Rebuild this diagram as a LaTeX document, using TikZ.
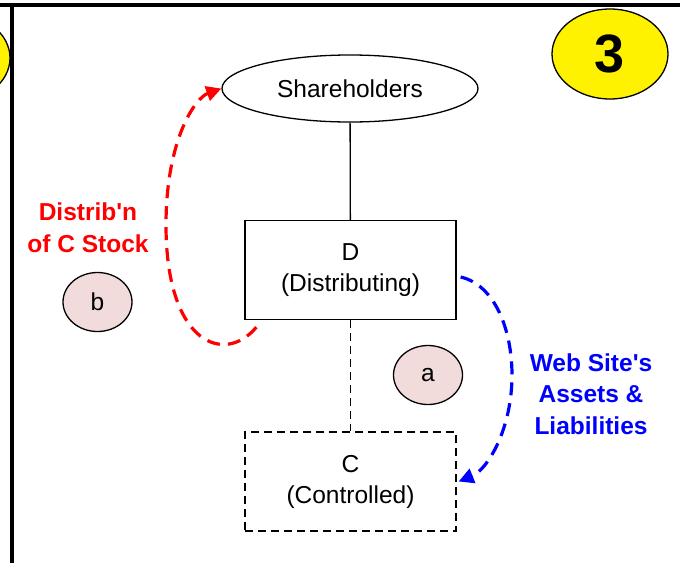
\documentclass[tikz,border=0pt]{standalone}
\usepackage{fontspec}
\setmainfont{Liberation Sans}
\usetikzlibrary{arrows.meta,shapes.geometric}
\definecolor{tagpink}{RGB}{242,220,219}
\definecolor{webblue}{RGB}{0,0,255}

\begin{document}
\begin{tikzpicture}[x=1pt, y=-1pt,
        oval/.style={ellipse, draw=black, line width=1.3pt, inner sep=0pt},
        box/.style={rectangle, draw=black, line width=1.3pt, minimum width=211pt, minimum height=99pt, align=center, font=\fontsize{24.5}{31}\selectfont},
        tag/.style={ellipse, draw=black, line width=1.3pt, fill=tagpink, minimum width=69pt, minimum height=59pt, inner sep=0pt, font=\fontsize{24.5}{29}\selectfont},
        move/.style={line width=3.2pt, dash pattern=on 13pt off 8pt, -{Triangle[length=15pt,width=15pt]}},
        note/.style={align=center, font=\fontsize{24.5}{31.5}\selectfont\bfseries}
    ]
    \useasboundingbox (0,0) rectangle (680,563);
    % page badges
    \node[oval, fill=yellow, minimum width=116pt, minimum height=90pt] (prev) at (-48,58) {};
    \node[oval, fill=yellow, minimum width=116pt, minimum height=90pt, font=\fontsize{54}{54}\selectfont\bfseries] (num) at (610,54) {3};
    % frame
    \coordinate (topL) at (0,5);
    \coordinate (topR) at (680,5);
    \coordinate (edgeT) at (12,5);
    \coordinate (edgeB) at (12,563);
    \draw[line width=3.5pt] (topL) -- (topR);
    \draw[line width=3.5pt] (edgeT) -- (edgeB);
    % entities
    \node[oval, minimum width=256pt, minimum height=67pt, font=\fontsize{24.5}{29}\selectfont] (share) at (350,88.5) {Shareholders};
    \node[box] (dist) at (350.5,270) {D\\(Distributing)};
    \node[box, dash pattern=on 8pt off 5pt] (ctrl) at (350.5,481.5) {C\\(Controlled)};
    \draw[line width=1.3pt] (share) -- (dist);
    \draw[line width=1.3pt, dash pattern=on 8pt off 5pt] (dist) -- (ctrl);
    % steps
    \node[tag] (stepB) at (97.5,302) {b};
    \node[tag] (stepA) at (428,375) {a};
    % transfers
    \draw[move, red] ([xshift=12pt,yshift=-7pt]dist.south west)
        .. controls (225,365) and (166,345) .. (166,225)
        .. controls (166,140) and (195,98) .. (share.west);
    \draw[move, webblue] ([xshift=4pt,yshift=-7pt]dist.east)
        .. controls (495,285) and (512,330) .. (512,375)
        .. controls (512,430) and (487,470) .. ([xshift=2pt]ctrl.east);
    \node[note, red] (lblB) at (88,227.5) {Distrib\textquotesingle n\\of C Stock};
    \node[note, webblue] (lblA) at (591,394) {Web Site\textquotesingle s\\Assets \&\\Liabilities};
\end{tikzpicture}
\end{document}
